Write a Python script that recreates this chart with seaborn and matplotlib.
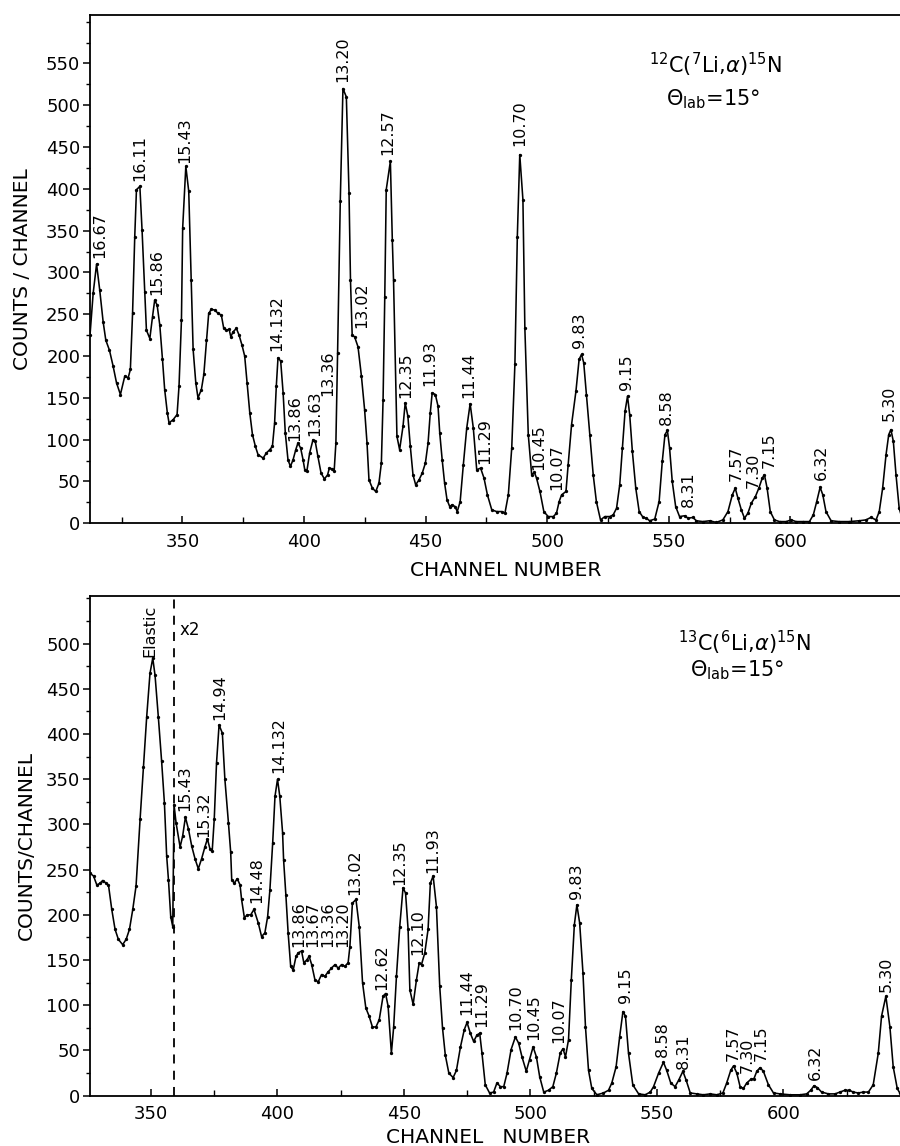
import matplotlib
matplotlib.use("Agg")
import matplotlib.pyplot as plt
from matplotlib.ticker import MultipleLocator
import seaborn as sns

# ---------------- data ----------------
# 12C(7Li,alpha)15N spectrum
top_channel = [312.0, 313.3, 314.7, 316.0, 317.4, 318.5, 320.0, 321.5, 322.9, 324.5, 326.3, 327.7, 328.6, 329.5,
               330.4, 331.1, 332.5, 333.4, 334.5, 335.2, 336.6, 337.7, 338.6, 339.6, 340.7, 341.8, 342.7, 343.8,
               344.5, 346.2, 347.8, 348.6, 349.6, 350.1, 351.4, 352.6, 353.6, 354.4, 355.5, 356.4, 357.8, 358.8,
               359.9, 360.8, 361.9, 363.3, 364.7, 366.0, 367.0, 368.0, 369.2, 369.9, 370.8, 372.2, 373.3, 374.5,
               375.6, 376.6, 377.7, 378.8, 380.0, 381.1, 383.2, 384.5, 385.9, 387.0, 387.9, 388.6, 389.3, 390.4,
               391.4, 392.3, 393.4, 394.4, 395.5, 396.6, 397.5, 398.6, 399.6, 400.3, 401.2, 402.3, 403.7, 404.6,
               405.7, 407.0, 408.4, 409.7, 410.4, 411.7, 412.4, 413.1, 413.8, 414.9, 416.0, 417.4, 418.5, 419.1,
               419.8, 420.8, 422.2, 423.6, 424.9, 425.9, 426.7, 428.1, 429.5, 430.8, 431.8, 432.5, 433.2, 433.8,
               435.5, 436.3, 436.8, 438.2, 439.3, 440.7, 441.6, 442.7, 443.7, 444.8, 445.9, 447.3, 448.6, 449.9,
               451.0, 451.9, 452.7, 454.0, 455.1, 455.8, 456.8, 457.8, 458.8, 459.9, 460.8, 462.1, 463.0, 464.2,
               465.5, 466.9, 468.3, 469.6, 471.0, 472.6, 474.0, 475.4, 477.2, 479.2, 481.3, 482.6, 484.0, 485.4,
               486.7, 487.7, 488.7, 490.0, 490.8, 492.2, 493.6, 494.7, 495.6, 497.0, 498.6, 500.4, 502.5, 503.8,
               504.9, 505.9, 507.7, 508.6, 510.0, 511.8, 513.1, 514.1, 515.0, 516.1, 517.5, 518.9, 520.2, 521.9,
               523.7, 525.7, 527.1, 528.5, 529.8, 530.9, 532.0, 533.0, 533.9, 535.0, 536.4, 537.8, 539.4, 540.8,
               542.1, 544.2, 546.0, 547.3, 548.4, 549.4, 550.3, 551.4, 552.8, 554.4, 556.5, 557.9, 559.9, 561.3,
               564.0, 566.8, 569.5, 572.2, 574.3, 576.1, 577.3, 578.4, 579.8, 581.1, 582.5, 583.9, 585.6, 587.0,
               588.4, 589.3, 590.4, 591.7, 593.4, 595.5, 598.2, 600.3, 602.3, 605.1, 607.8, 609.4, 610.8, 612.2,
               613.3, 614.6, 616.7, 620.1, 624.2, 628.3, 631.0, 633.1, 635.2, 636.5, 637.9, 639.3, 640.4, 641.3,
               642.3, 643.4, 644.7, 646.0]
top_counts = [225, 275, 310, 279, 241, 219, 207, 188, 168, 154, 176, 174, 184, 251,
              343, 399, 403, 351, 277, 231, 221, 247, 267, 261, 237, 196, 160, 132,
              120, 124, 130, 164, 243, 353, 427, 397, 291, 208, 168, 150, 160, 178,
              219, 251, 256, 255, 251, 249, 233, 231, 232, 223, 229, 233, 225, 213,
              200, 168, 132, 106, 92, 82, 78, 84, 88, 92, 120, 164, 198, 194,
              156, 108, 76, 68, 76, 88, 96, 90, 76, 64, 63, 84, 100, 98,
              80, 60, 53, 58, 66, 65, 63, 96, 204, 385, 520, 510, 395, 291,
              225, 223, 211, 176, 136, 96, 52, 42, 38, 48, 72, 148, 271, 399,
              433, 339, 291, 104, 88, 116, 144, 128, 92, 58, 46, 52, 60, 72,
              96, 132, 156, 154, 140, 108, 76, 48, 28, 20, 22, 20, 14, 26,
              70, 114, 143, 114, 64, 66, 54, 34, 16, 14, 14, 12, 34, 90,
              190, 343, 441, 387, 233, 106, 58, 61, 54, 38, 14, 8, 8, 12,
              26, 34, 38, 70, 118, 158, 196, 202, 192, 154, 106, 58, 26, 4,
              8, 8, 10, 18, 46, 90, 134, 152, 130, 86, 42, 14, 7, 6,
              3, 5, 26, 74, 106, 111, 90, 50, 20, 8, 9, 6, 7, 3,
              2, 3, 1, 4, 14, 34, 42, 30, 16, 6, 12, 24, 32, 42,
              54, 58, 42, 14, 4, 2, 2, 4, 2, 2, 2, 10, 26, 43,
              34, 14, 3, 2, 2, 3, 4, 7, 4, 14, 42, 82, 106, 112,
              98, 58, 18, 5]

# 13C(6Li,alpha)15N spectrum
bot_channel = [326.0, 327.4, 328.7, 330.0, 331.0, 332.4, 333.3, 334.6, 335.9, 337.2, 338.9, 340.3, 341.6, 342.9,
               344.2, 345.8, 347.1, 348.4, 349.7, 350.8, 351.7, 353.0, 354.3, 355.4, 356.3, 357.0, 357.9, 358.7,
               359.2, 360.0, 361.6, 362.6, 363.7, 364.9, 366.2, 367.5, 368.8, 370.1, 371.4, 372.4, 373.4, 374.3,
               375.1, 376.0, 377.0, 378.3, 379.3, 380.7, 381.6, 382.0, 383.0, 384.2, 385.3, 385.9, 387.0, 388.2,
               389.5, 390.8, 392.5, 393.8, 395.1, 396.2, 397.1, 398.2, 399.1, 400.1, 401.0, 402.1, 402.5, 403.4,
               404.3, 405.3, 406.3, 407.4, 408.3, 409.6, 410.5, 411.6, 412.6, 413.6, 414.9, 416.2, 417.5, 418.8,
               420.1, 421.4, 422.8, 424.1, 425.4, 426.7, 428.0, 428.7, 429.7, 431.1, 432.4, 433.7, 435.0, 436.3,
               437.6, 439.0, 440.3, 441.8, 442.8, 443.8, 445.1, 446.0, 447.1, 448.4, 449.7, 450.7, 451.7, 452.4,
               453.7, 455.0, 456.1, 457.0, 458.3, 459.6, 460.5, 461.6, 462.9, 464.2, 465.3, 466.4, 467.8, 469.5,
               470.8, 472.4, 473.9, 475.0, 476.3, 477.6, 478.9, 480.0, 480.9, 482.2, 483.9, 485.5, 486.8, 488.2,
               489.5, 490.8, 492.4, 494.1, 495.4, 496.7, 498.4, 499.7, 501.1, 502.4, 503.7, 505.3, 507.2, 508.9,
               510.3, 511.8, 512.9, 513.9, 515.1, 516.2, 517.4, 518.4, 519.5, 520.8, 521.8, 523.0, 524.3, 526.3,
               528.9, 530.9, 532.2, 533.9, 535.3, 536.6, 537.6, 538.8, 540.5, 542.8, 545.4, 547.4, 548.7, 550.7,
               552.6, 553.9, 555.5, 557.2, 558.6, 560.3, 561.6, 563.2, 565.8, 568.4, 571.1, 573.7, 576.1, 577.6,
               579.2, 580.3, 581.6, 582.9, 584.2, 585.5, 587.1, 588.4, 589.5, 590.8, 592.1, 594.1, 596.1, 598.7,
               602.6, 606.6, 609.2, 610.8, 612.1, 613.4, 615.1, 617.8, 620.4, 622.4, 624.3, 626.1, 627.6, 629.6,
               631.6, 633.6, 635.5, 637.5, 638.8, 640.5, 642.1, 643.4, 645.0, 646.0]
bot_counts = [246, 243, 233, 235, 238, 235, 233, 206, 184, 173, 167, 173, 184, 206,
              232, 306, 363, 419, 467, 484, 465, 419, 370, 324, 265, 239, 198, 187,
              322, 302, 275, 287, 308, 295, 276, 262, 251, 262, 275, 284, 273, 271,
              306, 368, 410, 401, 350, 302, 269, 239, 235, 240, 233, 217, 197, 200,
              200, 206, 191, 176, 180, 198, 228, 280, 331, 350, 331, 291, 261, 222,
              180, 143, 139, 154, 158, 160, 147, 150, 154, 145, 128, 126, 134, 132,
              137, 141, 145, 141, 145, 143, 147, 165, 213, 217, 187, 125, 97, 88,
              76, 76, 84, 110, 113, 99, 47, 76, 132, 187, 230, 224, 184, 117,
              101, 128, 147, 145, 158, 184, 235, 243, 209, 121, 75, 45, 25, 20,
              28, 54, 73, 81, 69, 60, 67, 69, 47, 12, 3, 4, 14, 10,
              10, 25, 51, 65, 58, 43, 27, 40, 54, 43, 21, 4, 6, 10,
              25, 47, 52, 43, 62, 128, 189, 211, 191, 136, 76, 28, 8, 1,
              3, 6, 14, 32, 65, 93, 88, 47, 12, 2, 1, 4, 10, 25,
              37, 28, 14, 10, 17, 27, 17, 3, 2, 1, 2, 1, 3, 14,
              28, 33, 25, 10, 8, 14, 18, 19, 27, 31, 27, 12, 3, 2,
              1, 1, 2, 6, 11, 9, 4, 2, 2, 4, 6, 6, 4, 3,
              4, 4, 12, 47, 88, 110, 76, 32, 8, 3]

# peak labels: text, channel, count where the label starts
top_labels = ["16.67", "16.11", "15.86", "15.43", "14.132", "13.86", "13.63", "13.36", "13.20", "13.02",
              "12.57", "12.35", "11.93", "11.44", "11.29", "10.70", "10.45", "10.07", "9.83", "9.15",
              "8.58", "8.31", "7.57", "7.30", "7.15", "6.32", "5.30"]
top_label_ch = [316.0, 332.5, 339.3, 351.0, 388.6, 396.0, 404.4, 409.9, 416.0, 423.6,
                434.5, 441.8, 451.6, 467.6, 474.4, 488.5, 496.7, 503.8, 513.4, 532.6,
                549.0, 557.9, 577.7, 584.5, 591.4, 612.6, 640.6]
top_label_y = [317, 409, 273, 431, 206, 98, 104, 152, 528, 233,
               441, 150, 164, 150, 71, 451, 64, 40, 210, 160,
               118, 20, 50, 42, 66, 52, 122]

bot_labels = ["Elastic", "15.43", "15.32", "14.94", "14.48", "14.132", "13.86", "13.67", "13.36", "13.20",
              "13.02", "12.62", "12.35", "12.10", "11.93", "11.44", "11.29", "10.70", "10.45", "10.07",
              "9.83", "9.15", "8.58", "8.31", "7.57", "7.30", "7.15", "6.32", "5.30"]
bot_label_ch = [349.7, 363.6, 370.8, 377.4, 391.8, 400.4, 408.3, 414.2, 420.1, 426.0,
                430.7, 441.2, 448.4, 455.7, 461.6, 474.7, 480.9, 494.1, 501.3, 511.2,
                518.4, 537.5, 552.0, 560.5, 580.0, 585.8, 591.4, 612.5, 640.8]
bot_label_y = [485, 315, 286, 416, 213, 357, 164, 164, 164, 164,
               222, 117, 233, 156, 246, 89, 76, 73, 62, 58,
               217, 102, 43, 30, 38, 25, 38, 17, 115]

x_tick_values = [350, 400, 450, 500, 550, 600]
top_reaction = r"$^{12}$C($^{7}$Li,$\alpha$)$^{15}$N"
bot_reaction = r"$^{13}$C($^{6}$Li,$\alpha$)$^{15}$N"
angle_text = r"$\Theta_{\mathrm{lab}}$=15°"
scale_change_channel = 359

# ---------------- figure ----------------
sns.set_theme(style="ticks")
plt.rcParams["font.family"] = ["DejaVu Sans"]
plt.rcParams["mathtext.fontset"] = "dejavusans"

fig = plt.figure(figsize=(9, 11.46), dpi=100)
ax1 = fig.add_axes([0.1, 0.5434, 0.908, 0.4435])
ax2 = fig.add_axes([0.1, 0.0439, 0.911, 0.4363])


def style_axis(ax, xlim, ylim, ymax_tick):
    ax.set_xlim(*xlim)
    ax.set_ylim(*ylim)
    ax.set_xticks(x_tick_values)
    ax.xaxis.set_minor_locator(MultipleLocator(25))
    ax.set_yticks(list(range(0, ymax_tick + 1, 50)))
    ax.yaxis.set_minor_locator(MultipleLocator(25))
    for s in ax.spines.values():
        s.set_color("black")
        s.set_linewidth(1.3)
    ax.spines["right"].set_visible(False)
    ax.tick_params(axis="y", which="major", direction="out", length=5, width=1.1,
                   labelsize=13, colors="black", pad=2)
    ax.tick_params(axis="y", which="minor", direction="out", length=3, width=1.0, colors="black")
    ax.tick_params(axis="x", which="major", direction="in", length=5, width=1.1,
                   labelsize=13, colors="black", pad=7)
    ax.tick_params(axis="x", which="minor", direction="in", length=4, width=1.0, colors="black")
    ax.set_xlabel("")
    ax.set_ylabel("")


def add_labels(ax, texts, chs, ys, size):
    for t, c, y in zip(texts, chs, ys):
        ax.text(c, y, t, rotation=90, ha="center", va="bottom",
                fontsize=size, color="black")


# top panel
sns.lineplot(x=top_channel, y=top_counts, ax=ax1, color="black", linewidth=1.15,
             marker="o", markersize=2.4, markeredgewidth=0, sort=False, estimator=None)
style_axis(ax1, (312, 648), (0, 608), 550)
add_labels(ax1, top_labels, top_label_ch, top_label_y, 11.5)
ax1.text(569, 548, top_reaction, fontsize=15, ha="center", va="center", color="black")
ax1.text(568, 507, angle_text, fontsize=15, ha="center", va="center", color="black")
ax1.text(0.509, -0.092, "CHANNEL NUMBER", transform=ax1.transAxes, ha="center",
         va="center", fontsize=14.5, color="black")
ax1.text(-0.083, 0.5, "COUNTS / CHANNEL", transform=ax1.transAxes, ha="center",
         va="center", rotation=90, fontsize=14.5, color="black")

# bottom panel
sns.lineplot(x=bot_channel, y=bot_counts, ax=ax2, color="black", linewidth=1.15,
             marker="o", markersize=2.4, markeredgewidth=0, sort=False, estimator=None)
style_axis(ax2, (326, 650), (0, 553), 500)
ax2.axvline(scale_change_channel, color="black", lw=1.3, ls=(0, (5, 4)))
ax2.text(361.2, 515, "x2", fontsize=12, ha="left", va="center", color="black")
add_labels(ax2, bot_labels, bot_label_ch, bot_label_y, 11.5)
ax2.text(584.5, 501, bot_reaction, fontsize=15, ha="center", va="center", color="black")
ax2.text(581.7, 471, angle_text, fontsize=15, ha="center", va="center", color="black")
ax2.text(0.485, -0.083, "CHANNEL   NUMBER", transform=ax2.transAxes, ha="center",
         va="center", fontsize=14.5, color="black")
ax2.text(-0.078, 0.5, "COUNTS/CHANNEL", transform=ax2.transAxes, ha="center",
         va="center", rotation=90, fontsize=14.5, color="black")

fig.savefig("out.png", dpi=100, facecolor="white")
